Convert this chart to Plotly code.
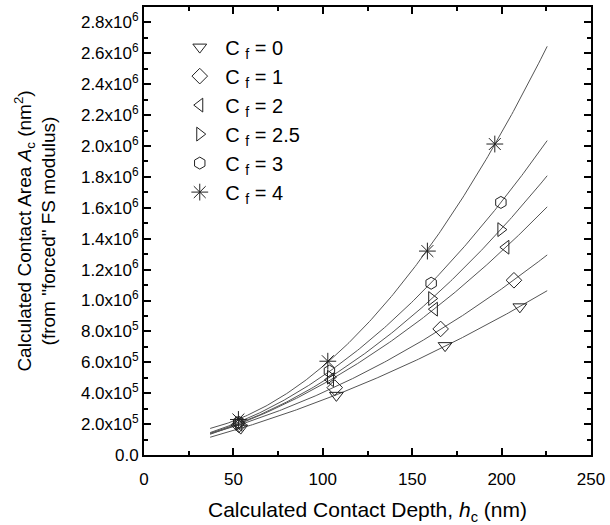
import numpy as np
import plotly.graph_objects as go

# ---- data ----
labels = ["0", "1", "2", "2.5", "3", "4"]
hc_cf0 = [54.1, 107.6, 168.4, 210.2]
ac_cf0 = [1.74e5, 3.86e5, 7.08e5, 9.59e5]
hc_cf1 = [53.0, 106.7, 165.9, 206.9]
ac_cf1 = [1.95e5, 4.36e5, 8.16e5, 1.131e6]
hc_cf2 = [53.0, 104.3, 162.4, 202.4]
ac_cf2 = [2.00e5, 4.87e5, 9.44e5, 1.345e6]
hc_cf25 = [53.0, 104.3, 160.9, 199.6]
ac_cf25 = [2.05e5, 5.04e5, 1.013e6, 1.459e6]
hc_cf3 = [53.0, 103.7, 160.6, 199.6]
ac_cf3 = [2.12e5, 5.43e5, 1.112e6, 1.635e6]
hc_cf4 = [52.8, 102.8, 158.5, 196.2]
ac_cf4 = [2.30e5, 6.07e5, 1.32e6, 2.013e6]
fit_range = [37.0, 225.5]

x_ticks = [0, 50, 100, 150, 200, 250]
y_tickvals = [0, 2e5, 4e5, 6e5, 8e5, 1e6, 1.2e6, 1.4e6, 1.6e6, 1.8e6, 2.0e6,
              2.2e6, 2.4e6, 2.6e6, 2.8e6]
y_ticktext = ["0.0"] + [f"{m}x10<sup>5</sup>" for m in ["2.0", "4.0", "6.0", "8.0"]] + \
             [f"{m}x10<sup>6</sup>" for m in ["1.0", "1.2", "1.4", "1.6", "1.8", "2.0",
                                               "2.2", "2.4", "2.6", "2.8"]]

series = [
    (hc_cf0, ac_cf0, "triangle-down-open"),
    (hc_cf1, ac_cf1, "diamond-open"),
    (hc_cf2, ac_cf2, "triangle-left-open"),
    (hc_cf25, ac_cf25, "triangle-right-open"),
    (hc_cf3, ac_cf3, "hexagon-open"),
    (hc_cf4, ac_cf4, "asterisk-open"),
]

FONT = "Liberation Sans, Arial, sans-serif"
fig = go.Figure()

# fitted quadratic curves (least squares on each series' points)
xs = np.linspace(fit_range[0], fit_range[1], 200)
for hx, ay, sym in series:
    coef = np.polyfit(hx, ay, 2)
    fig.add_trace(go.Scatter(x=xs, y=np.polyval(coef, xs), mode="lines",
                             line=dict(color="#555555", width=1),
                             showlegend=False, hoverinfo="skip"))

for (hx, ay, sym), lab in zip(series, labels):
    fig.add_trace(go.Scatter(
        x=hx, y=ay, mode="markers",
        name="\u00a0C <sub>f</sub> = " + lab,
        marker=dict(symbol=sym, size=12 if sym != "asterisk-open" else 14,
                    color="#222222", line=dict(color="#222222", width=1)),
        legendgroup=lab,
    ))

axis_common = dict(
    showline=True, linecolor="black", linewidth=2, mirror="ticks",
    ticks="inside", tickcolor="black", tickwidth=2, ticklen=7,
    showgrid=False, zeroline=False,
    tickfont=dict(family=FONT, size=17, color="black"),
)

fig.update_layout(
    width=610, height=525,
    margin=dict(l=144, r=17, t=5, b=70),
    plot_bgcolor="white", paper_bgcolor="white",
    font=dict(family=FONT, color="black"),
    xaxis=dict(range=[0, 250], tickvals=x_ticks, ticklabelstandoff=8,
               minor=dict(dtick=25, ticks="inside", ticklen=4, tickcolor="black", tickwidth=2),
               title=dict(text="Calculated Contact Depth, <i>h</i><sub>c</sub> (nm)",
                          font=dict(family=FONT, size=21), standoff=14),
               **axis_common),
    yaxis=dict(range=[0, 2.9e6], tickvals=y_tickvals, ticktext=y_ticktext,
               minor=dict(dtick=1e5, tick0=0, ticks="inside", ticklen=4, tickcolor="black", tickwidth=2),
               title=dict(text="Calculated Contact Area <i>A</i><sub>c</sub> (nm<sup>2</sup>)<br>(from \"forced\" FS modulus)",
                          font=dict(family=FONT, size=19), standoff=20),
               **axis_common),
    legend=dict(x=0.08, y=0.954, xanchor="left", yanchor="top",
                bgcolor="rgba(0,0,0,0)", font=dict(family=FONT, size=20),
                tracegroupgap=0, itemwidth=30),
)

fig.write_html("out.html")
